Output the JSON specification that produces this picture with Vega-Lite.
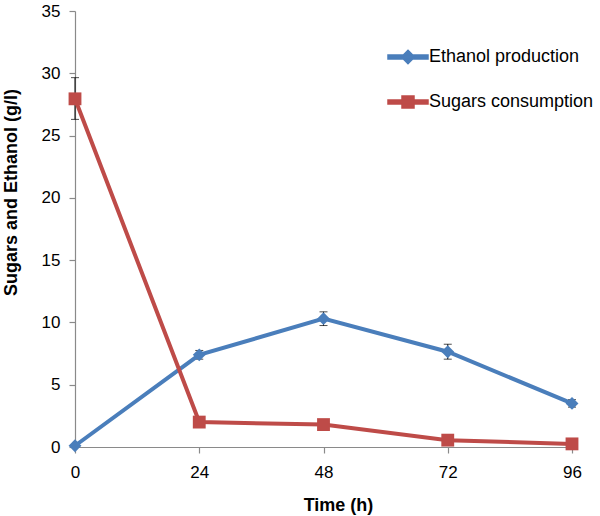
{
  "$schema": "https://vega.github.io/schema/vega-lite/v6.json",
  "width": 497,
  "height": 436,
  "autosize": {"type": "none"},
  "padding": {"left": 75, "top": 11, "right": 28, "bottom": 69},
  "background": "white",
  "config": {
    "view": {"stroke": null},
    "font": "Liberation Sans",
    "axis": {
      "grid": false,
      "domainColor": "#8a8a8a",
      "tickColor": "#8a8a8a",
      "domainWidth": 1.2,
      "tickWidth": 1.2,
      "tickSize": 6,
      "labelFontSize": 17,
      "labelColor": "black",
      "labelFont": "Liberation Sans",
      "titleFont": "Liberation Sans",
      "titleFontSize": 18,
      "titleFontWeight": "bold",
      "titleColor": "black",
      "labelFlush": false,
      "labelOverlap": false
    },
    "legend": {
      "title": null, "orient": "none", "legendX": 312, "legendY": 25, "padding": 0,
      "symbolSize": 1600, "labelFontSize": 18, "labelColor": "black", "labelFont": "Liberation Sans",
      "labelOffset": 0, "rowPadding": 14, "labelLimit": 300
    }
  },
  "data": {
    "values": [
      {"series": "Ethanol production", "time": 0, "value": 0.1, "lo": 0.05, "hi": 0.15},
      {"series": "Ethanol production", "time": 24, "value": 7.4, "lo": 7.05, "hi": 7.75},
      {"series": "Ethanol production", "time": 48, "value": 10.3, "lo": 9.75, "hi": 10.85},
      {"series": "Ethanol production", "time": 72, "value": 7.65, "lo": 7.05, "hi": 8.25},
      {"series": "Ethanol production", "time": 96, "value": 3.5, "lo": 3.2, "hi": 3.8},
      {"series": "Sugars consumption", "time": 0, "value": 27.95, "lo": 26.3, "hi": 29.65},
      {"series": "Sugars consumption", "time": 24, "value": 2.0, "lo": 1.9, "hi": 2.1},
      {"series": "Sugars consumption", "time": 48, "value": 1.8, "lo": 1.7, "hi": 1.9},
      {"series": "Sugars consumption", "time": 72, "value": 0.55, "lo": 0.45, "hi": 0.65},
      {"series": "Sugars consumption", "time": 96, "value": 0.25, "lo": 0.2, "hi": 0.3}
    ]
  },
  "encoding": {
    "x": {"field": "time", "type": "quantitative", "scale": {"domain": [0, 96], "nice": false}, "axis": {"values": [0, 24, 48, 72, 96], "title": "Time (h)", "labelPadding": 11, "titlePadding": 16, "titleX": 263}},
    "y": {"field": "value", "type": "quantitative", "scale": {"domain": [0, 35], "nice": false}, "axis": {"values": [0, 5, 10, 15, 20, 25, 30, 35], "title": "Sugars and Ethanol (g/l)", "labelPadding": 9, "titlePadding": 21, "titleY": 181}}
  },
  "layer": [
    {
      "mark": {"type": "errorbar", "ticks": {"size": 8, "color": "black"}, "color": "black", "thickness": 1},
      "encoding": {
        "y": {"field": "lo", "type": "quantitative", "scale": {"domain": [0, 35], "nice": false}, "axis": {"values": [0, 5, 10, 15, 20, 25, 30, 35], "title": "Sugars and Ethanol (g/l)", "labelPadding": 9, "titlePadding": 21, "titleY": 181}},
        "y2": {"field": "hi"}
      }
    },
    {
      "mark": {"type": "line", "strokeWidth": 4},
      "encoding": {
        "color": {
          "field": "series", "type": "nominal",
          "scale": {"domain": ["Ethanol production", "Sugars consumption"], "range": ["#4A7EBB", "#BE4B48"]},
          "legend": {
            "encode": {"symbols": {"update": {
              "shape": {"signal": "datum.value === 'Ethanol production' ? 'M-1,-0.1L1,-0.1L1,0.1L-1,0.1Z M0,-0.33L0.33,0L0,0.33L-0.33,0Z' : 'M-1,-0.1L1,-0.1L1,0.1L-1,0.1Z M-0.3,-0.3L0.3,-0.3L0.3,0.3L-0.3,0.3Z'"},
              "fill": {"signal": "datum.value === 'Ethanol production' ? '#4A7EBB' : '#BE4B48'"},
              "stroke": {"value": "transparent"},
              "size": {"value": 1600},
              "opacity": {"value": 1}
            }}}
          }
        }
      }
    },
    {
      "transform": [{"filter": "datum.series === 'Ethanol production'"}],
      "mark": {"type": "point", "filled": true, "opacity": 1, "size": 165, "shape": "diamond"},
      "encoding": {
        "color": {
          "field": "series", "type": "nominal",
          "scale": {"domain": ["Ethanol production", "Sugars consumption"], "range": ["#4A7EBB", "#BE4B48"]},
          "legend": {
            "encode": {"symbols": {"update": {
              "shape": {"signal": "datum.value === 'Ethanol production' ? 'M-1,-0.1L1,-0.1L1,0.1L-1,0.1Z M0,-0.33L0.33,0L0,0.33L-0.33,0Z' : 'M-1,-0.1L1,-0.1L1,0.1L-1,0.1Z M-0.3,-0.3L0.3,-0.3L0.3,0.3L-0.3,0.3Z'"},
              "fill": {"signal": "datum.value === 'Ethanol production' ? '#4A7EBB' : '#BE4B48'"},
              "stroke": {"value": "transparent"},
              "size": {"value": 1600},
              "opacity": {"value": 1}
            }}}
          }
        }
      }
    },
    {
      "transform": [{"filter": "datum.series === 'Sugars consumption'"}],
      "mark": {"type": "point", "filled": true, "opacity": 1, "size": 165, "shape": "square"},
      "encoding": {
        "color": {
          "field": "series", "type": "nominal",
          "scale": {"domain": ["Ethanol production", "Sugars consumption"], "range": ["#4A7EBB", "#BE4B48"]},
          "legend": {
            "encode": {"symbols": {"update": {
              "shape": {"signal": "datum.value === 'Ethanol production' ? 'M-1,-0.1L1,-0.1L1,0.1L-1,0.1Z M0,-0.33L0.33,0L0,0.33L-0.33,0Z' : 'M-1,-0.1L1,-0.1L1,0.1L-1,0.1Z M-0.3,-0.3L0.3,-0.3L0.3,0.3L-0.3,0.3Z'"},
              "fill": {"signal": "datum.value === 'Ethanol production' ? '#4A7EBB' : '#BE4B48'"},
              "stroke": {"value": "transparent"},
              "size": {"value": 1600},
              "opacity": {"value": 1}
            }}}
          }
        }
      }
    }
  ]
}
